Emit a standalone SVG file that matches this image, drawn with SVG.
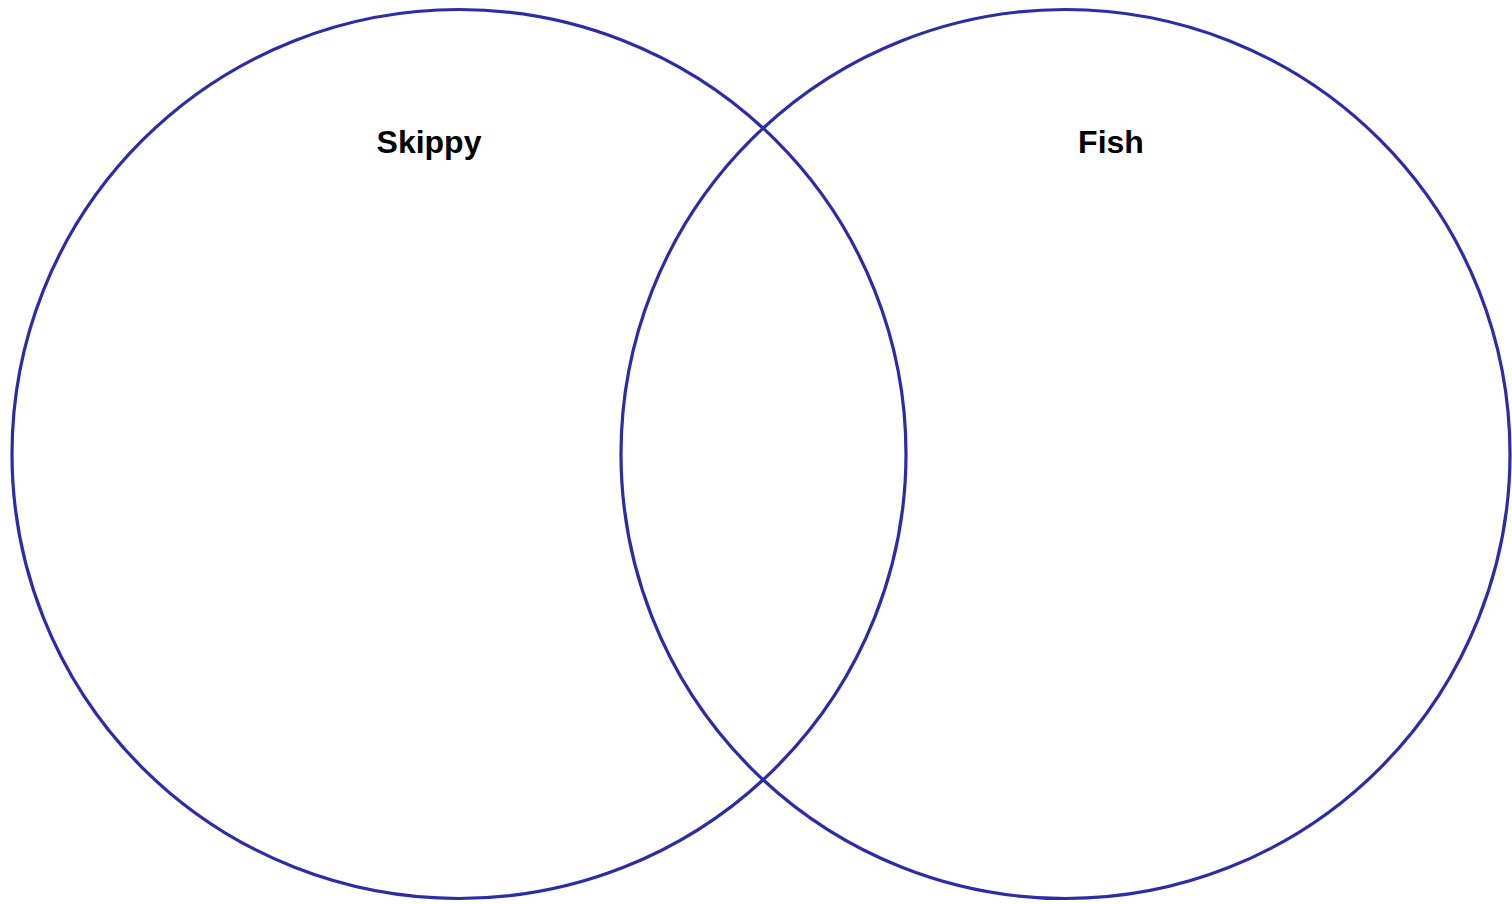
<svg xmlns="http://www.w3.org/2000/svg" width="1512" height="904" viewBox="0 0 1512 904">
<style>
.set{fill:none;stroke:#2c2ca6;stroke-width:3.2}
.lbl{font-family:"Liberation Sans",Arial,sans-serif;font-weight:bold;font-size:32px;fill:#000;text-anchor:middle}
</style>
<rect width="1512" height="904" fill="#fff"/>
<g id="skippy">
<ellipse class="set" cx="459" cy="454" rx="447" ry="444.5"/>
<text class="lbl" x="429" y="153">Skippy</text>
</g>
<g id="fish">
<ellipse class="set" cx="1065.5" cy="454" rx="444.5" ry="444.5"/>
<text class="lbl" x="1111" y="153">Fish</text>
</g>
<g id="connectors"/>
</svg>
